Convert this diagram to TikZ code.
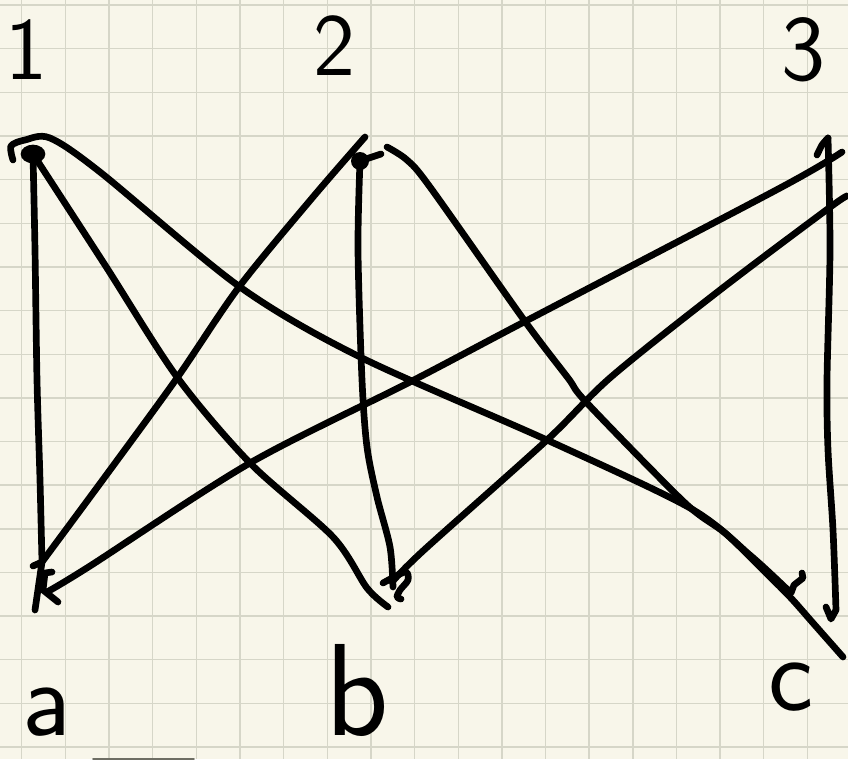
\documentclass[tikz,border=0pt]{standalone}
\usepackage{fontspec}
\definecolor{paper}{RGB}{248,246,234}
\definecolor{gridc}{RGB}{214,214,200}
\definecolor{barc}{RGB}{110,110,100}
\begin{document}
\begin{tikzpicture}[x=0.03cm,y=-0.03cm,
  pen/.style={line width=5.7pt,line cap=round,line join=round,black},
  gridline/.style={line width=1.2pt,gridc},
  lbl/.style={inner sep=0pt,font=\sffamily}]
\useasboundingbox (0,0) rectangle (848,759);
\fill[paper] (0,0) rectangle (848,759);
\foreach \i in {0,...,19} \draw[gridline] ({21.7+43.65*\i},0) -- ({21.7+43.65*\i},759);
\foreach \j in {0,...,17} \draw[gridline] (0,{5+43.65*\j}) -- (848,{5+43.65*\j});
\draw[line width=1.6pt,barc,line cap=round] (93,758.6) -- (194,758.6);

% vertices
\coordinate (v1) at (33,154);
\coordinate (v2) at (360,161);
\coordinate (v3) at (828,138);
\coordinate (va) at (42,562);
\coordinate (vb) at (392,582);
\coordinate (vc) at (843,657);

% labels
\node[lbl,font=\sffamily\fontsize{76}{76}\selectfont] (l1) at (26,50) {1};
\node[lbl,font=\sffamily\fontsize{76}{76}\selectfont] (l2) at (334,46) {2};
\node[lbl,font=\sffamily\fontsize{80}{80}\selectfont] (l3) at (804,50) {3};
\node[lbl,font=\sffamily\fontsize{92}{92}\selectfont] (la) at (47,712) {a};
\node[lbl,font=\sffamily\fontsize{112}{112}\selectfont] (lb) at (357,690) {b};
\node[lbl,font=\sffamily\fontsize{92}{92}\selectfont] (lc) at (791,687) {c};

% vertex marks
\fill (v1) ellipse [x radius=0.37cm, y radius=0.28cm];
\fill (v2) ellipse [x radius=0.27cm, y radius=0.27cm];
\draw[pen] (v2) -- (381,154);
\draw[pen] plot[smooth] coordinates {(817,155) (822,145) (v3)};

% 1 -> a
\draw[pen] plot[smooth] coordinates {(v1) (35,250) (37,380) (40,480) (va)} -- (35,610);
\draw[pen] (33,566) -- (va);
% 2 -> a
\draw[pen] plot[smooth] coordinates {(365,137) (313,197) (239,287) (177,378) (110,470) (va)};
% 3 -> a
\draw[pen] plot[smooth] coordinates {(842,152) (780,188) (524,322) (410,382) (250,463) (90,566) (47,592)};
\draw[pen] (52,572) -- (45,573) -- (43,590) -- (58,602);

% 1 -> b
\draw[pen] plot[smooth] coordinates {(v1) (105,265) (177,377) (250,463) (333,537) (367,588) (388,607)};
% 2 -> b
\draw[pen] plot[smooth] coordinates {(v2) (358,250) (362,380) (367,447) (377,497) (390,547) (393,587)};
\draw[pen] plot[smooth] coordinates {(383,583) (405,572) (408,580) (400,590) (397,597) (401,599)};
% 3 -> b
\draw[pen] plot[smooth] coordinates {(847,196) (829,208) (720,290) (611,377) (547,440) (424,550) (vb)};

% 1 -> c
\draw[pen] plot[smooth,tension=0.5] coordinates {(13,160) (11,146) (25,140) (50,138) (100,172) (240,287) (360,357) (547,440) (690,508) (751,556) (791,593)} -- (794,585) -- (803,578) -- (802,573);
% 2 -> c
\draw[pen] plot[smooth,tension=0.5] coordinates {(387,147) (407,160) (430,187) (524,320) (568,378) (587,403) (684,502) (725,533) (760,567) (790,597) (813,623) (vc)};
% 3 -> c
\draw[pen] plot[smooth] coordinates {(v3) (830,250) (827,380) (828,450) (833,530) (836,610)} -- (831,619) -- (826,607);
\end{tikzpicture}
\end{document}
